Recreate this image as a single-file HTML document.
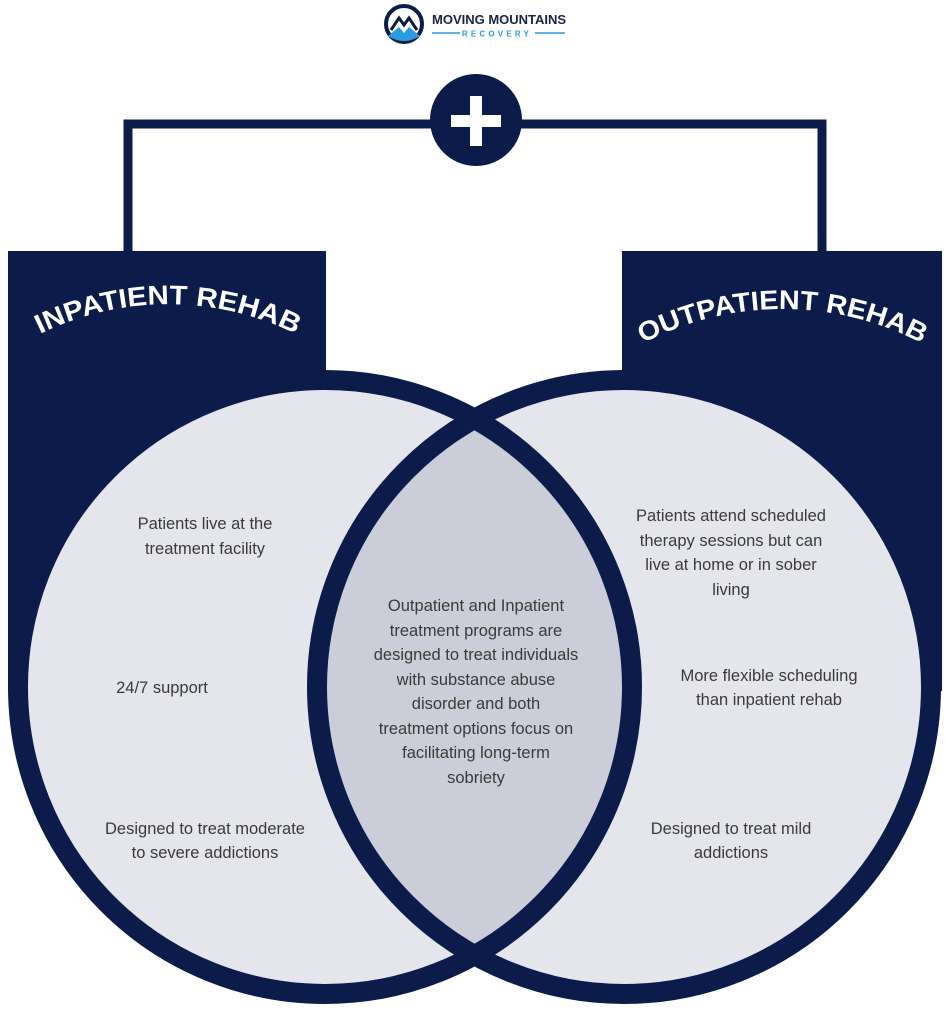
<!DOCTYPE html>
<html><head><meta charset="utf-8"><style>
html,body{margin:0;padding:0;background:#fff}
svg{display:block}
.t{font-family:"Liberation Sans",sans-serif;font-size:16.5px;fill:#3a3a3a;text-anchor:middle}
.h{font-family:"Liberation Sans",sans-serif;font-weight:bold;font-size:27px;fill:#fff}
</style></head><body>
<svg width="951" height="1024" viewBox="0 0 951 1024" xmlns="http://www.w3.org/2000/svg">
<defs>
<clipPath id="cl"><circle cx="325" cy="687" r="307"/></clipPath>
<path id="a1" d="M38,335 A290,290 0 0 1 298,335"/>
<path id="a2" d="M640,345 A300,300 0 0 1 925,345"/>
</defs>
<!-- connector -->
<path d="M128,255 V124 H822 V255" fill="none" stroke="#0b1c4b" stroke-width="9"/>
<circle cx="476" cy="120" r="46" fill="#0b1c4b"/>
<rect x="451" y="115" width="50" height="12" fill="#fff"/>
<rect x="470" y="96" width="12" height="50" fill="#fff"/>
<!-- rects -->
<rect x="8" y="251" width="318" height="440" fill="#0b1c4b"/>
<rect x="622" y="251" width="320" height="440" fill="#0b1c4b"/>
<!-- circles -->
<circle cx="325" cy="687" r="307" fill="#e5e6ec"/>
<circle cx="624" cy="687" r="307" fill="#e5e6ec"/>
<circle cx="624" cy="687" r="307" fill="#cbced8" clip-path="url(#cl)"/>
<circle cx="325" cy="687" r="307" fill="none" stroke="#0b1c4b" stroke-width="20"/>
<circle cx="624" cy="687" r="307" fill="none" stroke="#0b1c4b" stroke-width="20"/>
<!-- headers -->
<text class="h"><textPath href="#a1" startOffset="50%" text-anchor="middle" textLength="265" lengthAdjust="spacingAndGlyphs">INPATIENT REHAB</textPath></text>
<text class="h"><textPath href="#a2" startOffset="50%" text-anchor="middle" textLength="290" lengthAdjust="spacingAndGlyphs">OUTPATIENT REHAB</textPath></text>
<!-- logo -->
<circle cx="404" cy="24" r="18" fill="none" stroke="#0b1c4b" stroke-width="4"/>
<path d="M391,30 L399,18 L404,25 L409,18 L417,30" fill="none" stroke="#0b1c4b" stroke-width="3"/>
<path d="M388,36 L399,27 L404,33 L409,27 L420,36 Q404,46 388,36 Z" fill="#2a9be0"/>
<text x="432" y="24" font-family="Liberation Sans,sans-serif" font-weight="bold" font-size="13" fill="#1b2346">MOVING MOUNTAINS</text>
<line x1="432" y1="33" x2="460" y2="33" stroke="#2a9be0" stroke-width="1.5"/>
<line x1="535" y1="33" x2="565" y2="33" stroke="#2a9be0" stroke-width="1.5"/>
<text x="497" y="36.5" font-family="Liberation Sans,sans-serif" font-weight="bold" font-size="8" letter-spacing="3.2" fill="#2a9be0" text-anchor="middle">RECOVERY</text>
<!-- texts -->
<text class="t" x="205" y="529">Patients live at the</text>
<text class="t" x="205" y="554">treatment facility</text>
<text class="t" x="162" y="693">24/7 support</text>
<text class="t" x="205" y="834">Designed to treat moderate</text>
<text class="t" x="205" y="858">to severe addictions</text>
<g>
<text class="t" x="476" y="611">Outpatient and Inpatient</text>
<text class="t" x="476" y="636">treatment programs are</text>
<text class="t" x="476" y="660">designed to treat individuals</text>
<text class="t" x="476" y="685">with substance abuse</text>
<text class="t" x="476" y="709">disorder and both</text>
<text class="t" x="476" y="734">treatment options focus on</text>
<text class="t" x="476" y="758">facilitating long-term</text>
<text class="t" x="476" y="783">sobriety</text>
</g>
<text class="t" x="731" y="521">Patients attend scheduled</text>
<text class="t" x="731" y="546">therapy sessions but can</text>
<text class="t" x="731" y="570">live at home or in sober</text>
<text class="t" x="731" y="595">living</text>
<text class="t" x="769" y="681">More flexible scheduling</text>
<text class="t" x="769" y="705">than inpatient rehab</text>
<text class="t" x="731" y="834">Designed to treat mild</text>
<text class="t" x="731" y="858">addictions</text>
</svg>
</body></html>
